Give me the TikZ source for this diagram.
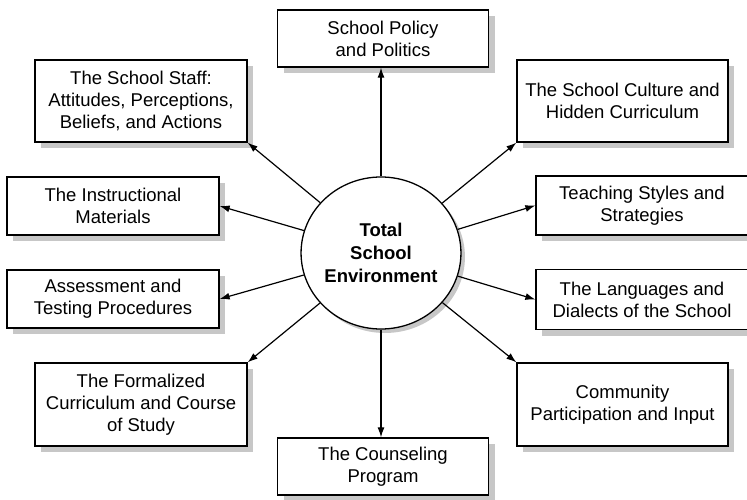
\documentclass[tikz,border=0pt]{standalone}
\usepackage{fontspec}
\setmainfont{Liberation Sans}
\usetikzlibrary{arrows.meta,shadows,shapes.geometric}

\tikzset{
  topic/.style={draw=black, line width=1.3pt, fill=white, align=center,
    inner sep=2pt, font=\fontsize{18.5}{22}\selectfont,
    drop shadow={shadow xshift=6pt, shadow yshift=-6pt, fill=black!22, opacity=1}},
  hub/.style={ellipse, draw=black, line width=1.3pt, fill=white, align=center,
    inner sep=0pt, minimum width=133pt, minimum height=152pt,
    font=\bfseries\fontsize{18.5}{23}\selectfont,
    drop shadow={shadow xshift=4pt, shadow yshift=-4pt, fill=black!22, opacity=1}},
  link/.style={line width=1.2pt, -{Latex[length=10pt,width=7pt]}}
}

\begin{document}
\begin{tikzpicture}[x=1pt, y=-1pt]
  \useasboundingbox (0,0) rectangle (747,500);

  % central hub
  \node[hub] (c) at (381,253) {Total\\School\\Environment};

  % surrounding factors
  \node[topic, minimum width=211pt, minimum height=57pt] (policy) at (383,38.5)
    {School Policy\\and Politics};
  \node[topic, minimum width=212pt, minimum height=82pt] (staff) at (141,101)
    {The School Staff:\\Attitudes, Perceptions,\\Beliefs, and Actions};
  \node[topic, minimum width=211pt, minimum height=82pt] (culture) at (622.5,101)
    {The School Culture and\\Hidden Curriculum};
  \node[topic, minimum width=212pt, minimum height=58pt] (instr) at (113,206)
    {The Instructional\\Materials};
  \node[topic, minimum width=212pt, minimum height=59pt] (teach) at (642,205.5)
    {Teaching Styles and\\Strategies};
  \node[topic, minimum width=212pt, minimum height=58pt] (assess) at (113,299)
    {Assessment and\\Testing Procedures};
  \node[topic, minimum width=212pt, minimum height=60pt] (lang) at (642,299.5)
    {The Languages and\\Dialects of the School};
  \node[topic, minimum width=212pt, minimum height=83pt] (formal) at (141,404.5)
    {The Formalized\\Curriculum and Course\\of Study};
  \node[topic, minimum width=211pt, minimum height=83pt] (comm) at (622.5,404.5)
    {Community\\Participation and Input};
  \node[topic, minimum width=211pt, minimum height=57pt] (couns) at (383,466.5)
    {The Counseling\\Program};

  % connectors
  \draw[link] (c.north) -- (c.north |- policy.south);
  \draw[link] (c.south) -- (c.south |- couns.north);
  \draw[link] (c) -- (staff.south east);
  \draw[link] (c) -- (culture.south west);
  \draw[link] (c) -- (instr.east);
  \draw[link] (c) -- (teach.west);
  \draw[link] (c) -- (assess.east);
  \draw[link] (c) -- (lang.west);
  \draw[link] (c) -- (formal.north east);
  \draw[link] (c) -- (comm.north west);
\end{tikzpicture}
\end{document}
